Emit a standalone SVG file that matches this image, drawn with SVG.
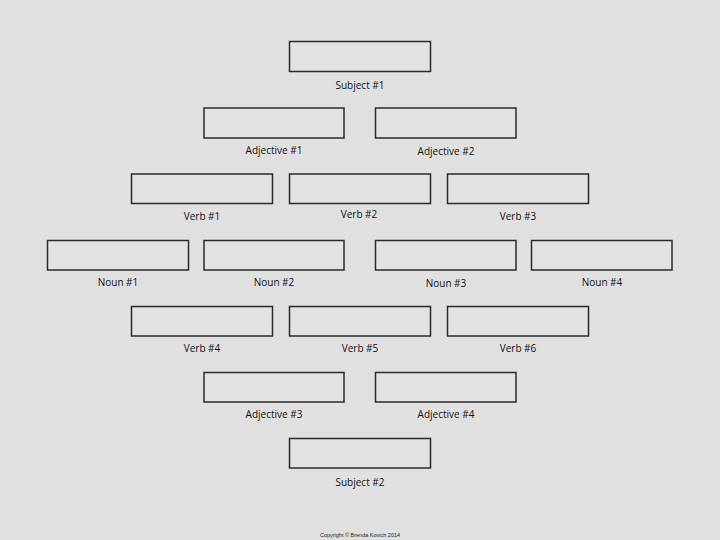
<svg xmlns="http://www.w3.org/2000/svg" width="720" height="540" viewBox="0 0 720 540">
<style>
.b{fill:#e2e2e2;stroke:#2a2a2a;stroke-width:1.5}
.t{font-family:"Open Sans","Liberation Sans",sans-serif;font-size:10px;fill:#111;text-anchor:middle}
.c{font-family:"Liberation Sans",sans-serif;font-size:5.5px;fill:#222;text-anchor:middle}
</style>
<rect width="720" height="540" fill="#e0e0e0"/>
<g id="connectors"></g>
<g id="subject1"><rect class="b" x="289.5" y="41.5" width="141" height="30"/><text class="t" x="360" y="88.5">Subject #1</text></g>
<g id="adjective1"><rect class="b" x="204" y="108" width="140" height="30"/><text class="t" x="274" y="153.5">Adjective #1</text></g>
<g id="adjective2"><rect class="b" x="375.5" y="108" width="140.5" height="30"/><text class="t" x="446" y="154.5">Adjective #2</text></g>
<g id="verb1"><rect class="b" x="131.5" y="174" width="141" height="29.5"/><text class="t" x="202" y="219.5">Verb #1</text></g>
<g id="verb2"><rect class="b" x="289.5" y="174" width="141" height="29.5"/><text class="t" x="359" y="217.5">Verb #2</text></g>
<g id="verb3"><rect class="b" x="447.5" y="174" width="141" height="29.5"/><text class="t" x="518" y="219.5">Verb #3</text></g>
<g id="noun1"><rect class="b" x="47.5" y="240.5" width="141" height="29.5"/><text class="t" x="118" y="285.5">Noun #1</text></g>
<g id="noun2"><rect class="b" x="204" y="240.5" width="140" height="29.5"/><text class="t" x="274" y="285.5">Noun #2</text></g>
<g id="noun3"><rect class="b" x="375.5" y="240.5" width="140.5" height="29.5"/><text class="t" x="446" y="286.5">Noun #3</text></g>
<g id="noun4"><rect class="b" x="531.5" y="240.5" width="140.5" height="29.5"/><text class="t" x="602" y="285.5">Noun #4</text></g>
<g id="verb4"><rect class="b" x="131.5" y="306.5" width="141" height="29.5"/><text class="t" x="202" y="351.5">Verb #4</text></g>
<g id="verb5"><rect class="b" x="289.5" y="306.5" width="141" height="29.5"/><text class="t" x="360" y="351.5">Verb #5</text></g>
<g id="verb6"><rect class="b" x="447.5" y="306.5" width="141" height="29.5"/><text class="t" x="518" y="351.5">Verb #6</text></g>
<g id="adjective3"><rect class="b" x="204" y="372.5" width="140" height="29.5"/><text class="t" x="274" y="417.5">Adjective #3</text></g>
<g id="adjective4"><rect class="b" x="375.5" y="372.5" width="140.5" height="29.5"/><text class="t" x="446" y="417.5">Adjective #4</text></g>
<g id="subject2"><rect class="b" x="289.5" y="438.5" width="141" height="29.5"/><text class="t" x="360" y="485.5">Subject #2</text></g>
<text class="c" x="360" y="537">Copyright © Brenda Kovich 2014</text>
</svg>
